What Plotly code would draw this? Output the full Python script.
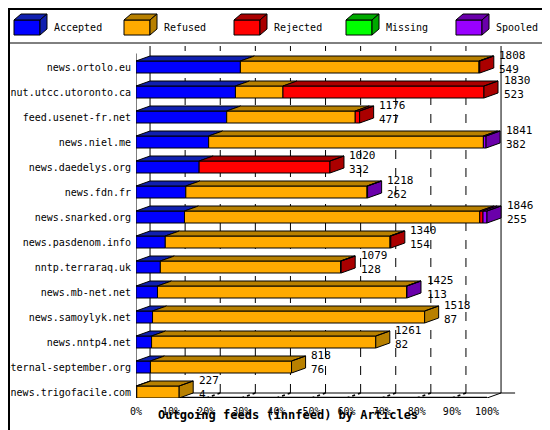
import plotly.graph_objects as go

# innfeed outgoing article counts per peer
hosts = ["news.ortolo.eu", "nut.utcc.utoronto.ca", "feed.usenet-fr.net", "news.niel.me",
         "news.daedelys.org", "news.fdn.fr", "news.snarked.org", "news.pasdenom.info",
         "nntp.terraraq.uk", "news.mb-net.net", "news.samoylyk.net", "news.nntp4.net",
         "eternal-september.org", "news.trigofacile.com"]
accepted = [549, 523, 477, 382, 332, 262, 255, 154, 128, 113, 87, 82, 76, 4]
refused = [1255, 250, 676, 1445, 0, 953, 1553, 1182, 948, 1310, 1431, 1179, 742, 223]
rejected = [4, 1057, 23, 0, 688, 0, 17, 4, 3, 0, 0, 0, 0, 0]
missing = [0] * 14
spooled = [0, 0, 0, 14, 0, 3, 21, 0, 0, 2, 0, 0, 0, 0]
series_names = ["Accepted", "Refused", "Rejected", "Missing", "Spooled"]
x_ticks = [0, 10, 20, 30, 40, 50, 60, 70, 80, 90, 100]

front_cols = ["#0000ff", "#ffaa00", "#ff0000", "#00ff00", "#9900ff"]
dark_cols = ["#1020b0", "#b88000", "#aa0000", "#00aa00", "#6a00aa"]

series = [accepted, refused, rejected, missing, spooled]
totals = [sum(s[i] for s in series) for i in range(len(hosts))]
scale = 100.0 / max(totals)
n = len(hosts)
H = 0.24   # half height of front face
DX, DY = 4.0, 0.2   # depth offset
Y0 = -0.24

fronts = [[[], []] for _ in series]
darks = [[[], []] for _ in series]


def poly(store, pts):
    for px, py in pts:
        store[0].append(px)
        store[1].append(py)
    store[0].append(pts[0][0]); store[1].append(pts[0][1])
    store[0].append(None); store[1].append(None)


annotations = []
for k in range(n):
    yc = n - 1 - k
    x = 0.0
    last = None
    for j, s in enumerate(series):
        v = s[k] * scale
        if v <= 0:
            continue
        x0, x1 = x, x + v
        poly(fronts[j], [(x0, yc - H), (x1, yc - H), (x1, yc + H), (x0, yc + H)])
        poly(darks[j], [(x0, yc + H), (x1, yc + H), (x1 + DX, yc + H + DY), (x0 + DX, yc + H + DY)])
        x = x1
        last = j
    poly(darks[last], [(x, yc - H), (x + DX, yc - H + DY), (x + DX, yc + H + DY), (x, yc + H)])
    annotations.append(dict(x=x + DX + 1, y=yc + 0.48, text=str(totals[k]), showarrow=False,
                            xanchor="left", yanchor="middle", font=dict(size=11)))
    annotations.append(dict(x=x + DX + 1, y=yc - 0.08, text=str(accepted[k]), showarrow=False,
                            xanchor="left", yanchor="middle", font=dict(size=11)))

fig = go.Figure()
for j in range(len(series)):
    for store, col in ((fronts[j], front_cols[j]), (darks[j], dark_cols[j])):
        if store[0]:
            fig.add_trace(go.Scatter(x=store[0], y=store[1], mode="lines", fill="toself",
                                     fillcolor=col, line=dict(color="black", width=1),
                                     hoverinfo="skip", showlegend=False, cliponaxis=False))

# 3D frame
shapes = []
line = dict(color="black", width=1)
ytop = 13.84
shapes.append(dict(type="line", x0=0, x1=0, y0=Y0, y1=ytop - 0.3, line=line, layer="below"))
shapes.append(dict(type="line", x0=DX, x1=DX, y0=Y0 + DY, y1=ytop, line=line, layer="below"))
shapes.append(dict(type="line", x0=100 + DX, x1=100 + DX, y0=Y0 + DY, y1=ytop, line=line, layer="below"))
shapes.append(dict(type="line", x0=0, x1=100, y0=Y0 + 0.01, y1=Y0 + 0.01, line=dict(color="black", width=2), layer="below"))
shapes.append(dict(type="line", x0=100, x1=100 + DX, y0=Y0, y1=Y0 + DY, line=line, layer="below"))
shapes.append(dict(type="line", x0=DX, x1=100 + DX + 4, y0=Y0 + DY, y1=Y0 + DY, line=line, layer="below"))
for t in x_ticks[1:-1]:
    shapes.append(dict(type="line", x0=t + DX, x1=t + DX, y0=Y0 + DY, y1=ytop,
                       line=dict(color="black", width=1, dash="dash"), layer="below"))
    shapes.append(dict(type="line", x0=t, x1=t + DX, y0=Y0, y1=Y0 + DY,
                       line=dict(color="black", width=1.5, dash="dot"), layer="below"))

# legend drawn as little 3D boxes (paper coords from pixels)
L, T, PW, PH = 128, 38, 397, 352


def px(v):
    return (v - L) / PW


def py(v):
    return (T + PH - v) / PH


legend_x = [6, 116, 226, 338, 448]
for j, name in enumerate(series_names):
    lx = legend_x[j]
    fr = [(lx, 27), (lx + 26, 27), (lx + 26, 12), (lx, 12)]
    tp = [(lx, 12), (lx + 26, 12), (lx + 33, 6), (lx + 7, 6)]
    sd = [(lx + 26, 27), (lx + 33, 21), (lx + 33, 6), (lx + 26, 12)]
    for pts, col in ((fr, front_cols[j]), (tp, dark_cols[j]), (sd, dark_cols[j])):
        path = "M " + " L ".join(f"{px(a):.4f},{py(b):.4f}" for a, b in pts) + " Z"
        shapes.append(dict(type="path", path=path, xref="paper", yref="paper",
                           fillcolor=col, line=line))
    annotations.append(dict(x=px(lx + 38), y=py(19), xref="paper", yref="paper", text=name,
                            showarrow=False, xanchor="left", yanchor="middle", font=dict(size=10)))

shapes.append(dict(type="line", xref="paper", yref="paper", x0=px(0), x1=px(550), y0=py(35), y1=py(35), line=line))
shapes.append(dict(type="rect", xref="paper", yref="paper", x0=px(1), x1=px(549), y0=py(1), y1=py(429),
                   line=dict(color="black", width=2)))
annotations.append(dict(x=px(280), y=py(416), xref="paper", yref="paper",
                        text="<b>Outgoing feeds (innfeed) by Articles</b>", showarrow=False,
                        font=dict(size=12)))

fig.update_layout(
    width=550, height=430,
    margin=dict(l=L, r=550 - L - PW, t=T, b=430 - T - PH),
    paper_bgcolor="white", plot_bgcolor="white",
    font=dict(family="DejaVu Sans Mono", color="black", size=10),
    showlegend=False,
    shapes=shapes, annotations=annotations,
    xaxis=dict(range=[0, PW / 3.51], tickvals=x_ticks, ticktext=[f"{t}%" for t in x_ticks],
               showgrid=False, zeroline=False, showline=False, ticks="", ticklabelstandoff=6,
               automargin=False, fixedrange=True),
    yaxis=dict(range=[Y0, ytop], tickvals=list(range(n)), ticktext=hosts[::-1],
               showgrid=False, zeroline=False, showline=False, ticks="", ticklabelstandoff=4,
               automargin=False, fixedrange=True),
)

fig.write_html("out.html")
